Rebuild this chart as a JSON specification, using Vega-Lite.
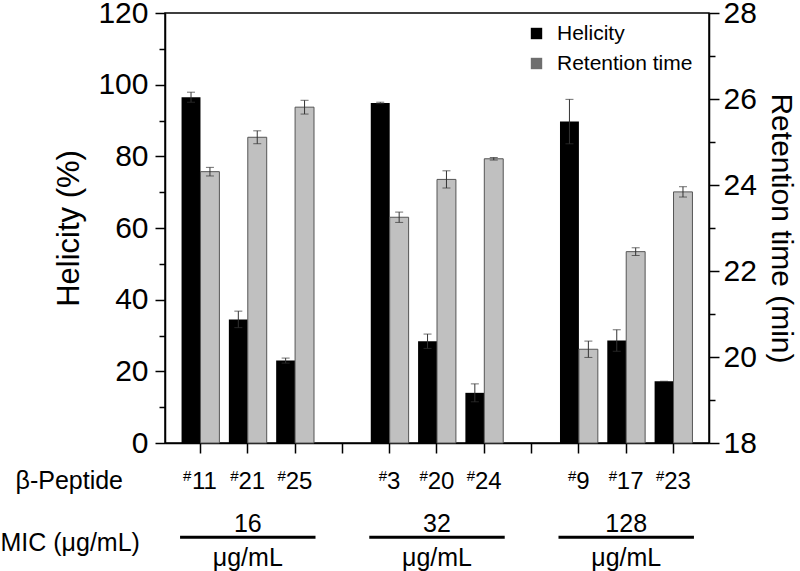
{
  "$schema": "https://vega.github.io/schema/vega-lite/v6.json",
  "autosize": "none",
  "width": 544,
  "height": 430,
  "padding": {"left": 165, "top": 13, "right": 91, "bottom": 128},
  "background": "white",
  "config": {
    "font": "Liberation Sans",
    "view": {"stroke": "black", "strokeWidth": 1.5},
    "axis": {
      "domainColor": "black", "domainWidth": 1.5, "tickColor": "black", "tickWidth": 1.5,
      "labelColor": "black", "titleColor": "black", "grid": false, "titleFontWeight": "normal",
      "labelFont": "Liberation Sans", "titleFont": "Liberation Sans", "labelAngle": 0
    },
    "legend": {
      "orient": "none", "legendX": 361, "legendY": 10, "symbolType": "square", "symbolSize": 130,
      "symbolStrokeWidth": 0, "labelFontSize": 21, "labelFont": "Liberation Sans", "labelColor": "black",
      "rowPadding": 8, "labelOffset": 10, "padding": 0
    }
  },
  "datasets": {
    "hel": [
      {"pep": "11", "s": "Helicity", "v": 96.5, "lo": 95.1, "hi": 97.9},
      {"pep": "21", "s": "Helicity", "v": 34.5, "lo": 32.2, "hi": 36.8},
      {"pep": "25", "s": "Helicity", "v": 23.0, "lo": 22.3, "hi": 23.7},
      {"pep": "3", "s": "Helicity", "v": 94.9, "lo": 94.7, "hi": 95.1},
      {"pep": "20", "s": "Helicity", "v": 28.4, "lo": 26.4, "hi": 30.4},
      {"pep": "24", "s": "Helicity", "v": 14.0, "lo": 11.5, "hi": 16.5},
      {"pep": "9", "s": "Helicity", "v": 89.7, "lo": 83.5, "hi": 95.9},
      {"pep": "17", "s": "Helicity", "v": 28.6, "lo": 25.6, "hi": 31.6},
      {"pep": "23", "s": "Helicity", "v": 17.2, "lo": 17.2, "hi": 17.2}
    ],
    "ret": [
      {"pep": "11", "s": "Retention time", "v": 24.31, "lo": 24.21, "hi": 24.41},
      {"pep": "21", "s": "Retention time", "v": 25.11, "lo": 24.96, "hi": 25.26},
      {"pep": "25", "s": "Retention time", "v": 25.81, "lo": 25.65, "hi": 25.97},
      {"pep": "3", "s": "Retention time", "v": 23.25, "lo": 23.13, "hi": 23.37},
      {"pep": "20", "s": "Retention time", "v": 24.13, "lo": 23.93, "hi": 24.33},
      {"pep": "24", "s": "Retention time", "v": 24.61, "lo": 24.58, "hi": 24.64},
      {"pep": "9", "s": "Retention time", "v": 20.18, "lo": 19.99, "hi": 20.37},
      {"pep": "17", "s": "Retention time", "v": 22.45, "lo": 22.36, "hi": 22.54},
      {"pep": "23", "s": "Retention time", "v": 23.84, "lo": 23.72, "hi": 23.96}
    ],
    "mic": [
      {"start": "11", "end": "25", "mic": "16"},
      {"start": "3", "end": "24", "mic": "32"},
      {"start": "9", "end": "23", "mic": "128"}
    ]
  },
  "layer": [
    {
      "data": {"name": "hel"},
      "mark": {"type": "bar"},
      "encoding": {
        "x": {
          "field": "pep", "type": "nominal",
          "scale": {"domain": ["11", "21", "25", " ", "3", "20", "24", "  ", "9", "17", "23"], "paddingInner": 0.2, "paddingOuter": 0.35},
          "axis": {
            "orient": "bottom", "tickSize": 10, "labelFontSize": 24, "labelBaseline": "alphabetic",
            "labelPadding": 35, "labelOffset": 4,
            "title": "β-Peptide", "titleFontSize": 25, "titleX": -150, "titleY": 45,
            "titleAlign": "left", "titleBaseline": "alphabetic", "titleAngle": 0
          }
        },
        "xOffset": {"field": "s", "type": "nominal", "scale": {"domain": ["Helicity", "Retention time"]}},
        "y": {
          "field": "v", "type": "quantitative",
          "scale": {"domain": [0, 120], "nice": false},
          "axis": {
            "orient": "left", "values": [0, 10, 20, 30, 40, 50, 60, 70, 80, 90, 100, 110, 120],
            "labelExpr": "datum.value % 20 === 0 ? datum.label : ''",
            "tickSize": {"condition": {"test": "datum.value % 20 === 0", "value": 10}, "value": 6},
            "labelFontSize": 30, "labelPadding": 7,
            "title": "Helicity (%)", "titleFontSize": 31, "titlePadding": 12
          }
        },
        "color": {
          "field": "s", "type": "nominal",
          "scale": {"domain": ["Helicity", "Retention time"], "range": ["#000000", "#6e6e6e"]},
          "legend": {"title": null}
        }
      }
    },
    {
      "data": {"name": "hel"},
      "mark": {"type": "rule", "color": "#333333", "strokeWidth": 1},
      "encoding": {
        "x": {"field": "pep", "type": "nominal", "axis": null},
        "xOffset": {"field": "s", "type": "nominal"},
        "y": {"field": "lo", "type": "quantitative", "scale": {"domain": [0, 120], "nice": false}, "axis": null},
        "y2": {"field": "hi"}
      }
    },
    {
      "data": {"name": "hel"},
      "transform": [{"fold": ["lo", "hi"], "as": ["k", "e"]}],
      "mark": {"type": "tick", "orient": "horizontal", "size": 8, "thickness": 1, "color": "#333333"},
      "encoding": {
        "x": {"field": "pep", "type": "nominal", "axis": null},
        "xOffset": {"field": "s", "type": "nominal"},
        "y": {"field": "e", "type": "quantitative", "scale": {"domain": [0, 120], "nice": false}, "axis": null}
      }
    },
    {
      "data": {"name": "ret"},
      "mark": {"type": "bar", "fill": "#c0c0c0", "stroke": "#555555", "strokeWidth": 1},
      "encoding": {
        "x": {
          "field": "pep", "type": "nominal",
          "axis": {
            "orient": "bottom", "domain": false, "ticks": false, "tickSize": 0,
            "labelExpr": "trim(datum.value) === '' ? '' : '#'",
            "labelFontSize": 15, "labelAlign": "right", "labelBaseline": "alphabetic", "labelPadding": 37,
            "labelOffset": {"condition": {"test": "length(datum.value) > 1", "value": -9.2}, "value": -2.5},
            "title": null
          }
        },
        "xOffset": {"field": "s", "type": "nominal"},
        "y": {
          "field": "v", "type": "quantitative",
          "scale": {"domain": [18, 28], "nice": false, "zero": false},
          "axis": {
            "orient": "right", "values": [18, 19, 20, 21, 22, 23, 24, 25, 26, 27, 28],
            "labelExpr": "datum.value % 2 === 0 ? datum.label : ''",
            "tickSize": {"condition": {"test": "datum.value % 2 === 0", "value": 10}, "value": 6},
            "labelFontSize": 30, "labelPadding": 4,
            "title": "Retention time (min)", "titleFontSize": 30, "titlePadding": 9
          }
        },
        "y2": {"datum": 18}
      }
    },
    {
      "data": {"name": "ret"},
      "mark": {"type": "rule", "color": "#333333", "strokeWidth": 1},
      "encoding": {
        "x": {"field": "pep", "type": "nominal", "axis": null},
        "xOffset": {"field": "s", "type": "nominal"},
        "y": {"field": "lo", "type": "quantitative", "scale": {"domain": [18, 28], "nice": false, "zero": false}, "axis": null},
        "y2": {"field": "hi"}
      }
    },
    {
      "data": {"name": "ret"},
      "transform": [{"fold": ["lo", "hi"], "as": ["k", "e"]}],
      "mark": {"type": "tick", "orient": "horizontal", "size": 8, "thickness": 1, "color": "#333333"},
      "encoding": {
        "x": {"field": "pep", "type": "nominal", "axis": null},
        "xOffset": {"field": "s", "type": "nominal"},
        "y": {"field": "e", "type": "quantitative", "scale": {"domain": [18, 28], "nice": false, "zero": false}, "axis": null}
      }
    },
    {
      "data": {"name": "mic"},
      "mark": {"type": "rule", "color": "black", "strokeWidth": 3, "strokeCap": "square"},
      "encoding": {
        "x": {
          "field": "start", "type": "nominal", "bandPosition": 0,
          "axis": {
            "orient": "bottom", "domain": false, "ticks": false, "tickSize": 0,
            "labelExpr": "datum.value === '21' ? ['16', 'μg/mL'] : datum.value === '20' ? ['32', 'μg/mL'] : datum.value === '17' ? ['128', 'μg/mL'] : ''",
            "labelFontSize": 25, "labelBaseline": "alphabetic", "labelPadding": 88, "labelLineHeight": 34,
            "title": "MIC (μg/mL)", "titleFontSize": 25, "titleX": -165, "titleY": 107,
            "titleAlign": "left", "titleBaseline": "alphabetic", "titleAngle": 0
          }
        },
        "x2": {"field": "end", "bandPosition": 1},
        "y": {"datum": -26.3, "type": "quantitative", "scale": {"domain": [0, 120], "nice": false}, "axis": null}
      }
    }
  ],
  "resolve": {"scale": {"y": "independent"}, "axis": {"x": "independent", "y": "independent"}}
}
